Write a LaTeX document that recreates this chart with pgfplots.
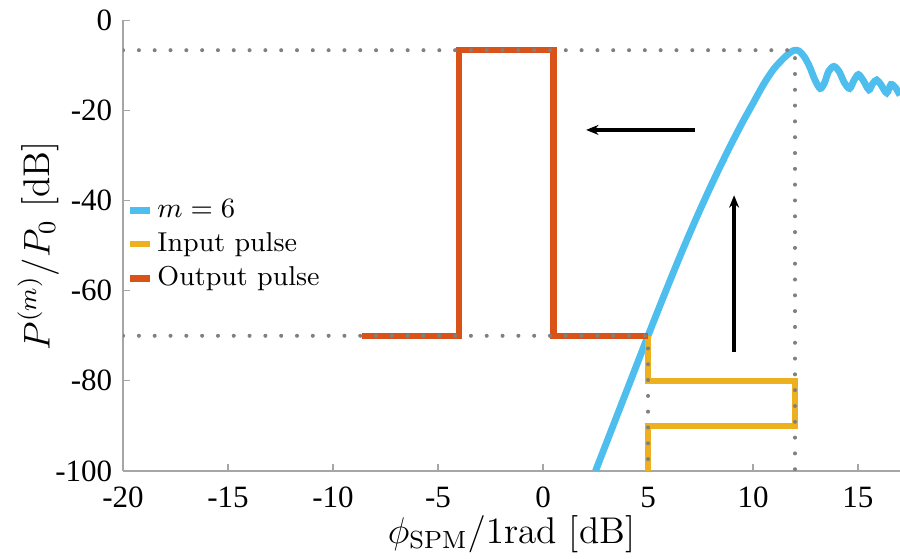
\documentclass[border=0pt]{standalone}
\usepackage{pgfplots}
\pgfplotsset{compat=1.18}
\usepackage{fontspec}
\newfontfamily\tickfont{Liberation Serif}
\usetikzlibrary{arrows.meta}

\definecolor{mblue}{RGB}{77,190,238}
\definecolor{morange}{RGB}{217,83,25}
\definecolor{myellow}{RGB}{237,177,32}
\definecolor{mgray}{RGB}{128,128,128}

\begin{document}
\begin{tikzpicture}
\path[use as bounding box] (-39.7pt,-28.1pt) rectangle (250.6pt,151.9pt);
\begin{axis}[
  at={(0pt,0pt)}, anchor=south west,
  scale only axis, width=250.6pt, height=145.3pt,
  xmin=-20, xmax=17, ymin=-100, ymax=0,
  axis x line*=bottom, axis y line*=left,
  axis line style={black!35, line width=0.4pt},
  tick align=inside, major tick length=2.3pt,
  tick style={black!35, line width=0.4pt},
  xtick={-20,-15,-10,-5,0,5,10,15},
  xticklabels={-20,-15,-10,-5,0,5,10,15},
  ytick={-100,-80,-60,-40,-20,0},
  yticklabels={-100,-80,-60,-40,-20,0},
  ticklabel style={font=\tickfont\fontsize{10}{12}\selectfont},
  xticklabel style={inner sep=1pt, yshift=-3.9pt},
  xlabel={$\phi_{\mathrm{SPM}}/1\mathrm{rad}$ [dB]},
  ylabel={$P^{(m)}/P_0$ [dB]},
  label style={font=\fontsize{12}{14}\selectfont},
  xlabel style={at={(axis description cs:0.5,-0.16)}, anchor=base, inner sep=1pt},
  ylabel style={at={(axis description cs:-0.1093,0.5)}, anchor=center},
  legend style={at={(rel axis cs:0.004,0.502)}, anchor=west, draw=none, fill=none,
    font=\fontsize{8.8}{10.6}\selectfont, inner sep=0pt, row sep=1pt,
    nodes={inner sep=1.2pt}},
  legend cell align=left,
  legend image code/.code={\draw[#1] (0pt,0pt) -- (6.5pt,0pt);},
  clip=true,
]
% m = 6 sideband power versus SPM phase
\addplot[mblue, line width=2.2pt, smooth] coordinates {
  (2.5,-100) (3,-94) (3.5,-88) (4,-82) (4.5,-76) (5,-70) (5.5,-64.1)
  (6,-58.3) (6.5,-52.6) (7,-47.1) (7.5,-41.8) (8,-36.7) (8.5,-31.8)
  (9,-27.1) (9.5,-22.6) (10,-18.4) (10.5,-14.2) (11,-10.7) (11.5,-8.2)
  (11.8,-7.0) (12,-6.6) (12.2,-6.8) (12.45,-8.1) (12.7,-10.3) (12.95,-13.2)
  (13.2,-15.1) (13.4,-13.9) (13.6,-11.3) (13.85,-10.2) (14.1,-11.3)
  (14.35,-13.8) (14.6,-15.1) (14.82,-13.2) (15.02,-12.0) (15.25,-13.3)
  (15.52,-15.4) (15.7,-14.0) (15.89,-13.2) (16.1,-14.3) (16.37,-16.1)
  (16.57,-14.2) (16.8,-15.0) (17,-16.6)
};
\addlegendentry{$m=6$}
% input pulse
\addplot[myellow, line width=2pt, line join=miter] coordinates {
  (5,-70) (5,-80) (12,-80) (12,-90) (5,-90) (5,-100)
};
\addlegendentry{Input pulse}
% output pulse
\addplot[morange, line width=2pt, line join=miter] coordinates {
  (-8.6,-70) (-4,-70) (-4,-6.6) (0.5,-6.6) (0.5,-70) (5,-70)
};
\addlegendentry{Output pulse}
% guide lines
\addplot[forget plot, mgray, line width=1.3pt, line cap=round,
  dash pattern=on 0pt off 5.1pt] coordinates {
  (-20,-6.6) (12,-6.6) (12,-100)
};
\addplot[forget plot, mgray, line width=1.3pt, line cap=round,
  dash pattern=on 0pt off 5.1pt] coordinates {
  (-20,-70) (5,-70) (5,-100)
};
% arrows
\addplot[forget plot, black, line width=1.3pt,
  -{Stealth[length=4pt,width=3.2pt]}] coordinates {(7.24,-24.3) (2.05,-24.3)};
\addplot[forget plot, black, line width=1.3pt,
  -{Stealth[length=4pt,width=3.2pt]}] coordinates {(9.1,-73.6) (9.1,-38.8)};
\end{axis}
\end{tikzpicture}
\end{document}
